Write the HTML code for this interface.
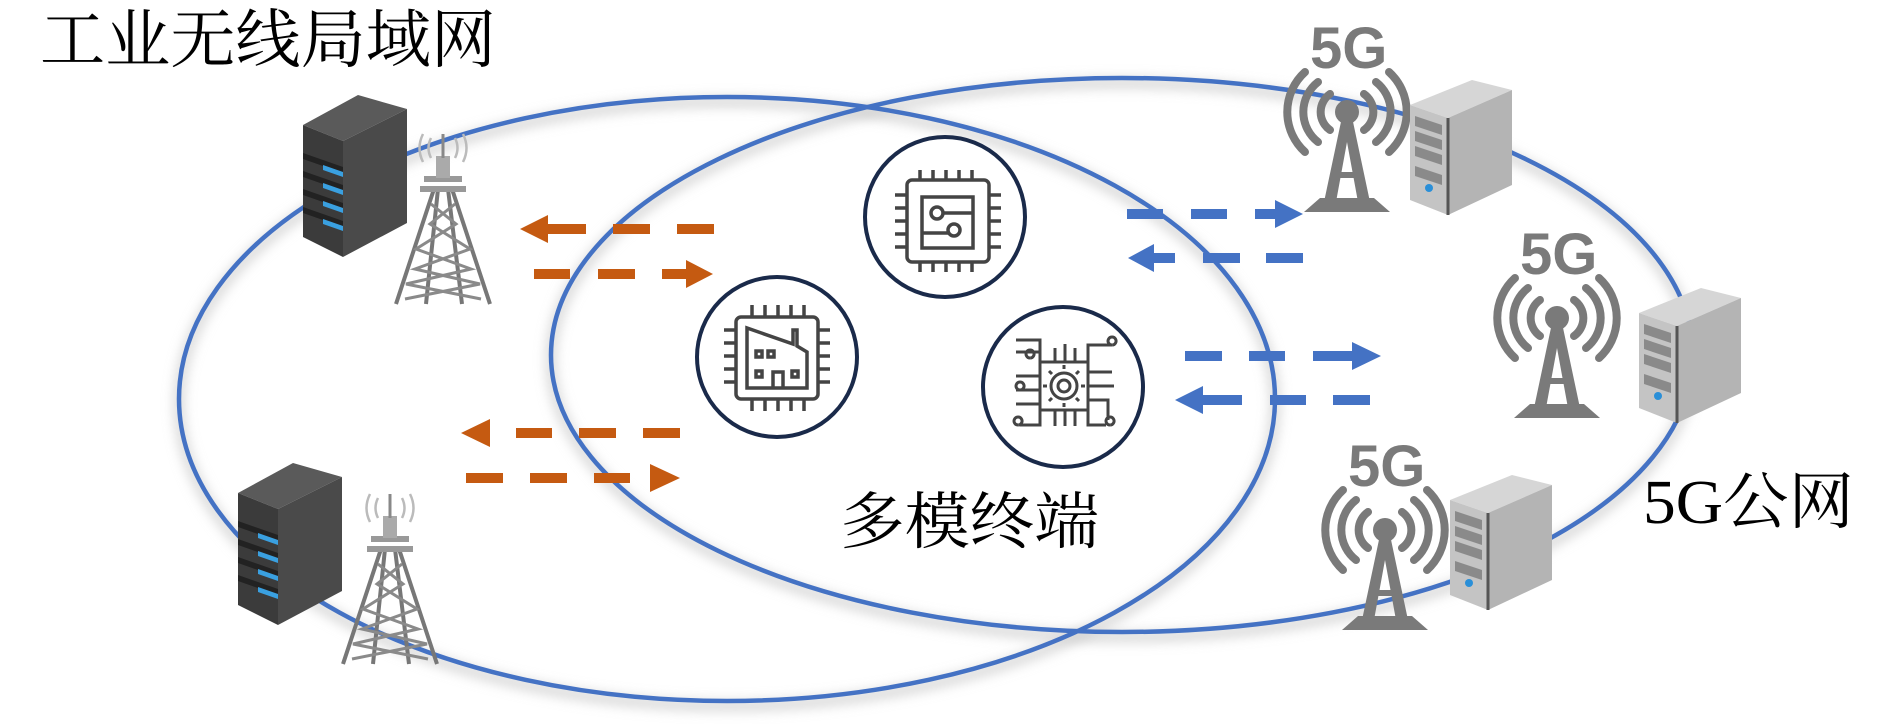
<!DOCTYPE html>
<html><head><meta charset="utf-8"><style>
html,body{margin:0;padding:0;background:#fff;}
svg{display:block;}
</style></head><body>
<svg width="1890" height="724" viewBox="0 0 1890 724" xmlns="http://www.w3.org/2000/svg">
<defs>
<filter id="sh" x="-10%" y="-10%" width="120%" height="120%"><feGaussianBlur stdDeviation="6"/></filter>
<g id="dserver">
  <polygon points="0,30 55,0 104,14 40,46" fill="#5a5a5a"/>
  <polygon points="0,30 40,46 40,162 0,142" fill="#3b3b3b"/>
  <polygon points="40,46 104,14 104,128 40,162" fill="#4a4a4a"/>
  <g fill="#222"><polygon points="0,58 40,72 40,78 0,64"/><polygon points="0,76 40,90 40,96 0,82"/><polygon points="0,94 40,108 40,114 0,100"/><polygon points="0,112 40,126 40,132 0,118"/></g>
  <g fill="#3aa0e0"><polygon points="20,70 40,77 40,82 20,75"/><polygon points="20,88 40,95 40,100 20,93"/><polygon points="20,106 40,113 40,118 20,111"/><polygon points="20,124 40,131 40,136 20,129"/></g>
</g>
<g id="ltower" stroke="#8a8a8a" fill="none" stroke-width="3">
  <path d="M48,55 L10,170 M66,55 L104,170 M52,55 L40,170 M62,55 L76,170" stroke="#777" stroke-width="4"/>
  <path d="M45,70 L70,90 L30,115 L85,135 L20,150 L95,165 M69,70 L44,90 L84,115 L29,135 L94,150 L19,165"/>
  <rect x="38" y="42" width="38" height="6" fill="#999" stroke="none"/>
  <rect x="34" y="52" width="46" height="6" fill="#999" stroke="none"/>
  <rect x="50" y="22" width="14" height="22" fill="#aaa" stroke="none"/>
  <line x1="57" y1="0" x2="57" y2="24" stroke="#888"/>
  <path d="M45,4 Q40,14 45,24 M69,4 Q74,14 69,24 M37,0 Q30,14 37,28 M77,0 Q84,14 77,28" stroke="#bbb" stroke-width="2.5"/>
</g>
<g id="t5g">
  <g fill="none" stroke="#7a7a7a" stroke-width="8" stroke-linecap="round">
    <path d="M40,82 A22,22 0 0 0 40,118"/><path d="M74,82 A22,22 0 0 1 74,118"/>
    <path d="M28,70 A38,38 0 0 0 28,130"/><path d="M86,70 A38,38 0 0 1 86,130"/>
    <path d="M15,60 A54,54 0 0 0 15,140"/><path d="M99,60 A54,54 0 0 1 99,140"/>
  </g>
  <circle cx="57" cy="100" r="12" fill="#7a7a7a"/>
  <polygon points="52,105 62,105 80,190 68,190 57,130 46,190 34,190" fill="#7a7a7a"/>
  <rect x="44" y="160" width="26" height="6" fill="#7a7a7a"/>
  <polygon points="30,186 84,186 100,200 14,200" fill="#7a7a7a"/>
</g>
<g id="lserver">
  <polygon points="0,25 62,0 102,10 38,38" fill="#d6d6d6"/>
  <polygon points="0,25 38,38 38,135 0,120" fill="#c4c4c4"/>
  <polygon points="38,38 102,10 102,105 38,135" fill="#b4b4b4"/>
  <line x1="38" y1="38" x2="38" y2="135" stroke="#555" stroke-width="3"/>
  <g fill="#8a8a8a"><polygon points="5,36 32,45 32,55 5,46"/><polygon points="5,51 32,60 32,70 5,61"/><polygon points="5,66 32,75 32,85 5,76"/><polygon points="5,86 32,95 32,105 5,96"/></g>
  <circle cx="19" cy="108" r="4" fill="#2a8fd8"/>
</g>
</defs>

<ellipse cx="727" cy="404" rx="548" ry="302" fill="none" stroke="#ccc" stroke-width="8" filter="url(#sh)"/>
<ellipse cx="1122" cy="360" rx="571" ry="277" fill="none" stroke="#ccc" stroke-width="8" filter="url(#sh)"/>
<ellipse cx="727" cy="399" rx="548" ry="302" fill="none" stroke="#4472c4" stroke-width="4.5"/>
<ellipse cx="1122" cy="355" rx="571" ry="277" fill="none" stroke="#4472c4" stroke-width="4.5"/>

<use href="#dserver" x="303" y="95"/>
<use href="#ltower" x="386" y="134"/>
<use href="#dserver" x="238" y="463"/>
<use href="#ltower" x="333" y="494"/>

<use href="#t5g" x="1290" y="12"/>
<use href="#lserver" x="1410" y="80"/>
<use href="#t5g" x="1500" y="218"/>
<use href="#lserver" x="1639" y="288"/>
<use href="#t5g" x="1328" y="430"/>
<use href="#lserver" x="1450" y="475"/>
<g font-family="Liberation Sans, DejaVu Sans, sans-serif" font-weight="bold" font-size="58" fill="#7a7a7a">
<text x="1310" y="68">5G</text>
<text x="1520" y="274">5G</text>
<text x="1348" y="486">5G</text>
</g>

<!-- orange arrows -->
<g fill="#c55a11">
  <polygon points="520,229 548,215 548,243"/><rect x="546" y="224" width="40" height="10"/><rect x="613" y="224" width="37" height="10"/><rect x="677" y="224" width="37" height="10"/>
  <rect x="534" y="269" width="36" height="10"/><rect x="598" y="269" width="37" height="10"/><rect x="662" y="269" width="26" height="10"/><polygon points="713,274 686,260 686,288"/>
  <polygon points="461,433 490,419 490,447"/><rect x="516" y="428" width="36" height="10"/><rect x="579" y="428" width="37" height="10"/><rect x="643" y="428" width="37" height="10"/>
  <rect x="466" y="473" width="37" height="10"/><rect x="530" y="473" width="37" height="10"/><rect x="594" y="473" width="36" height="10"/><polygon points="680,478 650,464 650,492"/>
</g>
<!-- blue arrows -->
<g fill="#4472c4">
  <rect x="1127" y="209" width="36" height="10"/><rect x="1191" y="209" width="36" height="10"/><rect x="1255" y="209" width="22" height="10"/><polygon points="1303,214 1275,200 1275,228"/>
  <polygon points="1128,258 1154,244 1154,272"/><rect x="1152" y="253" width="23" height="10"/><rect x="1203" y="253" width="37" height="10"/><rect x="1266" y="253" width="37" height="10"/>
  <rect x="1185" y="351" width="37" height="10"/><rect x="1249" y="351" width="36" height="10"/><rect x="1313" y="351" width="41" height="10"/><polygon points="1381,356 1352,342 1352,370"/>
  <polygon points="1175,400 1203,386 1203,414"/><rect x="1201" y="395" width="41" height="10"/><rect x="1270" y="395" width="36" height="10"/><rect x="1333" y="395" width="37" height="10"/>
</g>

<!-- chip circles -->
<g fill="#fff" stroke="#1a2a4a" stroke-width="4">
<circle cx="945" cy="217" r="80"/>
<circle cx="777" cy="357" r="80"/>
<circle cx="1063" cy="387" r="80"/>
</g>
<!-- chip 1 -->
<g stroke="#444" stroke-width="3.5" fill="none">
  <rect x="907" y="180" width="82" height="82" rx="5"/>
  <rect x="922" y="197" width="51" height="51"/>
  <circle cx="937" cy="213" r="6"/><circle cx="954" cy="230" r="6"/>
  <path d="M943,213 H973 M922,233 H948"/>
  <path d="M920,170 v10 M933,170 v10 M946,170 v10 M959,170 v10 M972,170 v10 M920,262 v10 M933,262 v10 M946,262 v10 M959,262 v10 M972,262 v10 M895,195 h12 M895,208 h12 M895,221 h12 M895,234 h12 M895,247 h12 M989,195 h12 M989,208 h12 M989,221 h12 M989,234 h12 M989,247 h12"/>
</g>
<!-- chip 2 factory -->
<g stroke="#444" stroke-width="3.5" fill="none">
  <rect x="736" y="317" width="82" height="82" rx="5"/>
  <path d="M747,328 V388 H807 V352 L797,346 V330 L793,330 V344 L747,328 Z"/>
  <path d="M773,388 V372 H783 V388"/>
  <rect x="756" y="351" width="6" height="6"/><rect x="768" y="351" width="6" height="6"/><rect x="756" y="371" width="6" height="6"/><rect x="792" y="371" width="6" height="6"/>
  <path d="M752,305 v12 M765,305 v12 M778,305 v12 M791,305 v12 M804,305 v12 M752,399 v12 M765,399 v12 M778,399 v12 M791,399 v12 M804,399 v12 M724,330 h12 M724,343 h12 M724,356 h12 M724,369 h12 M724,382 h12 M818,330 h12 M818,343 h12 M818,356 h12 M818,369 h12 M818,382 h12"/>
</g>
<!-- chip 3 gear -->
<g stroke="#444" stroke-width="3" fill="none">
  <rect x="1040" y="362" width="48" height="48"/>
  <circle cx="1064" cy="386" r="13"/><circle cx="1064" cy="386" r="6"/>
  <path d="M1064,369 v-4 M1064,403 v4 M1047,386 h-4 M1081,386 h4 M1052,374 l-3,-3 M1076,398 l3,3 M1076,374 l3,-3 M1052,398 l-3,3"/>
  <path d="M1016,340 H1040 V362 M1016,352 h24 M1030,358 a4,4 0 1 1 0.1,0 M1055,362 v-14 M1065,362 V344 M1075,362 v-14 M1088,362 V345 H1112 M1112,345 a4,4 0 1 1 0.1,0 M1088,372 h24 M1088,386 h26 M1088,400 h20 V420 M1016,376 h24 M1016,390 h24 M1020,390 a4,4 0 1 1 0.1,0 M1016,404 h24 M1040,410 V425 H1020 M1018,425 a4,4 0 1 1 0.1,0 M1055,410 v16 M1065,410 v16 M1075,410 v16 M1088,410 V425 h18 M1110,425 a4,4 0 1 1 0.1,0"/>
</g>

<!-- labels -->
<text x="40" y="62" font-family="Liberation Serif, Noto Serif CJK SC, serif" font-size="64" fill="#000" textLength="456" lengthAdjust="spacingAndGlyphs">工业无线局域网</text>
<text x="840" y="543" font-family="Liberation Serif, Noto Serif CJK SC, serif" font-size="62" fill="#000" textLength="259" lengthAdjust="spacingAndGlyphs">多模终端</text>
<text x="1643" y="523" font-family="Liberation Serif, Noto Serif CJK SC, serif" font-size="62" fill="#000" textLength="211" lengthAdjust="spacingAndGlyphs">5G公网</text>
</svg>
</body></html>
